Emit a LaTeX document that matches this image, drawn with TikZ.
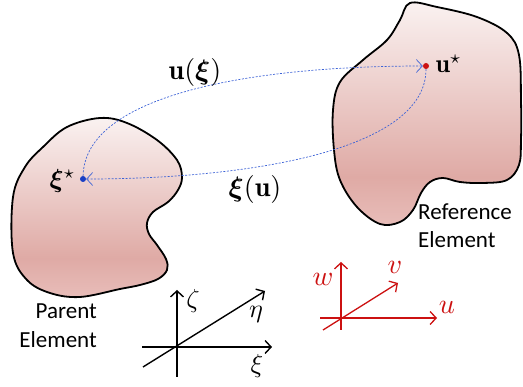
\documentclass[tikz,border=0pt]{standalone}
\usepackage{amsmath,bm}
\usepackage{fontspec}
\newfontfamily\labelfont{Carlito}
\usetikzlibrary{arrows.meta}

\definecolor{blobtop}{HTML}{FAF2F1}
\definecolor{blobmid}{HTML}{DFAAA5}
\definecolor{blobbot}{HTML}{E8BDB9}
\definecolor{mapblue}{HTML}{3D63D6}
\definecolor{refred}{HTML}{CC1111}
\definecolor{dotblue}{HTML}{1A3FC4}

\pgfdeclareverticalshading{blobshading}{100bp}{
  color(0bp)=(blobbot); color(25bp)=(blobbot); color(36bp)=(blobmid);
  color(75bp)=(blobtop); color(100bp)=(blobtop)}

\tikzset{
  blob/.style={
    draw=black,
    line width=1.8pt,
    shading=blobshading,
  },
  point/.style={
    circle,
    inner sep=0pt,
    minimum size=6pt,
  },
  map/.style={
    mapblue,
    line width=0.7pt,
    dash pattern=on 2pt off 1.5pt,
    -{Straight Barb[length=6pt,width=13pt]},
  },
  axis/.style={
    line width=1.4pt,
    -{Straight Barb[length=6pt,width=13pt]},
  },
  mathlabel/.style={
    scale=2.6,
    inner sep=0pt,
  },
  elemlabel/.style={
    font=\labelfont\fontsize{23}{28}\selectfont,
    inner sep=0pt,
  }
}

\begin{document}
\begin{tikzpicture}[x=1pt, y=-1pt]
  \useasboundingbox (0, 0) rectangle (523, 387);

  % parent element
  \draw[blob] plot[smooth cycle, tension=0.6] coordinates {
    (100, 118) (127, 123) (157, 140) (177, 160) (182, 177) (178, 190)
    (168, 202) (153, 212) (147, 223) (149, 234) (157, 245) (166, 259)
    (167, 270) (158, 279) (140, 285) (120, 289) (80, 297) (50, 293)
    (27, 280) (13, 253) (13, 197) (25, 167) (43, 147) (67, 127)
  };

  % reference element
  \draw[blob] plot[smooth cycle, tension=0.6] coordinates {
    (410, 3) (437, 7) (477, 17) (507, 33) (519, 55) (521, 100)
    (521, 140) (519, 165) (507, 180) (483, 183) (460, 182) (443, 178)
    (430, 182) (421, 193) (413, 210) (400, 222) (380, 224) (357, 207)
    (340, 180) (334, 150) (333, 110) (340, 82) (363, 60) (387, 40)
    (400, 20)
  };

  \node[point, fill=dotblue] (xis) at (83, 179) {};
  \node[point, fill=refred] (us) at (426, 66) {};

  \node[mathlabel, anchor=base east] (xislabel) at (76, 188) {$\bm{\xi}^{\star}$};
  \node[mathlabel, anchor=base west] (uslabel) at (435, 73) {$\mathbf{u}^{\star}$};

  % mappings
  \draw[map] (xis) .. controls (85, 95) and (250, 66) .. (us);
  \draw[map] (us) .. controls (426, 150) and (250, 179) .. (xis);
  \node[mathlabel, scale=1.08, anchor=base] (ufwd) at (195, 80) {$\mathbf{u}(\bm{\xi})$};
  \node[mathlabel, scale=1.08, anchor=base] (xiinv) at (255, 197) {$\bm{\xi}(\mathbf{u})$};

  \node[elemlabel, anchor=base east] (parent) at (97, 319) {Parent};
  \node[elemlabel, anchor=base east] (parentel) at (97, 348) {Element};
  \node[elemlabel, anchor=base west] (refer) at (418, 220) {Reference};
  \node[elemlabel, anchor=base west] (referel) at (418, 248) {Element};

  % parent axes
  \draw[axis] (177, 377) -- (177, 290);
  \draw[axis] (142, 347) -- (272, 347);
  \draw[axis] (143, 367) -- (265, 291);
  \node[mathlabel] (zeta) at (193, 301) {$\zeta$};
  \node[mathlabel] (eta) at (256, 314) {$\eta$};
  \node[mathlabel] (xi) at (257, 366) {$\xi$};

  % reference axes
  \begin{scope}[refred]
    \draw[axis, line width=1.3pt] (341, 330) -- (341, 262);
    \draw[axis, line width=1.3pt] (320, 318) -- (437, 318);
    \draw[axis, line width=1.3pt] (323, 330) -- (398, 283);
    \node[mathlabel, scale=1.08] (w) at (323, 279) {$w$};
    \node[mathlabel, scale=1.08] (v) at (395, 267) {$v$};
    \node[mathlabel, scale=1.08] (u) at (447, 307) {$u$};
  \end{scope}

\end{tikzpicture}
\end{document}
